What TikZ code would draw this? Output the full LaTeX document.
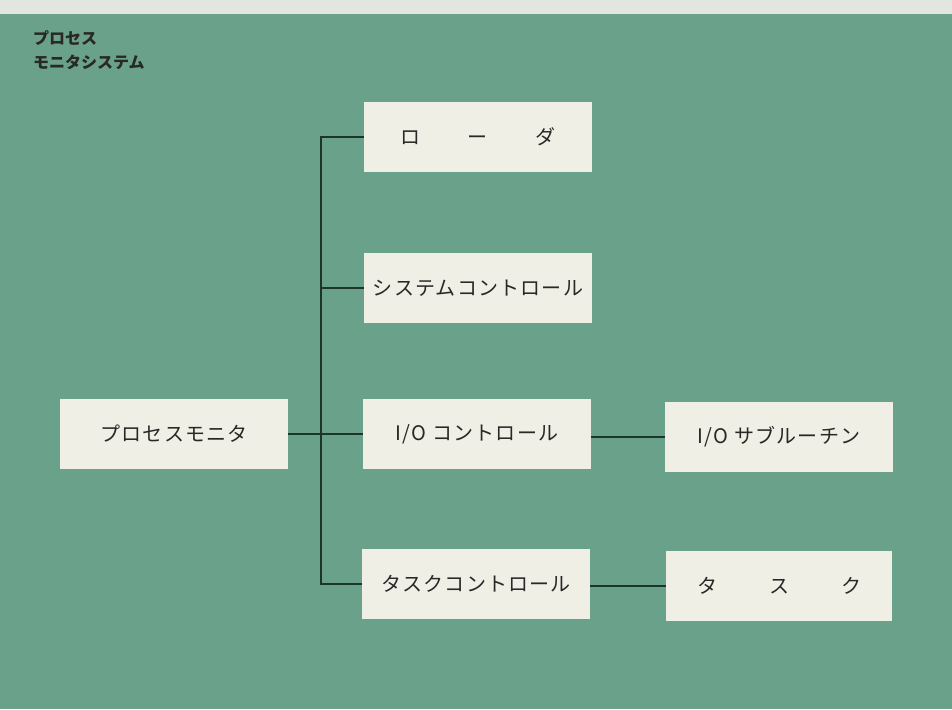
\documentclass[tikz,border=0pt]{standalone}
\usepackage{fontspec}
\newfontfamily\jp{Noto Sans CJK JP}
\newfontfamily\jpsp[LetterSpace=6]{Noto Sans CJK JP}
\definecolor{bg}{RGB}{106,161,139}
\definecolor{topstrip}{RGB}{226,229,224}
\definecolor{boxfill}{RGB}{240,239,230}
\definecolor{ink}{RGB}{40,40,38}
\definecolor{linec}{RGB}{28,52,42}
\tikzset{
  box/.style={fill=boxfill, draw=none, minimum width=228pt, minimum height=70pt, inner sep=0pt, text=ink, font=\jp\fontsize{20}{20}\selectfont},
  conn/.style={draw=linec, line width=2.8pt},
  title/.style={anchor=west, text=ink, font=\jp\bfseries\fontsize{16}{16}\selectfont, inner sep=0pt}
}
\begin{document}
\begin{tikzpicture}[x=1pt,y=-1pt]
\useasboundingbox (0,0) rectangle (952,709);
\fill[topstrip] (0,0) rectangle (952,14);
\fill[bg] (0,14) rectangle (952,709);
\node[title] (t1) at (33,38) {プロセス};
\node[title] (t2) at (33,62) {モニタシステム};
\node[box] (loader) at (478,137) {ロ\hspace{2.4em}ー\hspace{2.4em}ダ};
\node[box] (sysctl) at (478,288) {\jpsp\fontsize{20}{20}\selectfont システムコントロール};
\node[box] (pmon) at (174,434) {\jpsp\fontsize{20}{20}\selectfont プロセスモニタ};
\node[box] (ioctl) at (477,434) {\jpsp\fontsize{20}{20}\selectfont I/O コントロール};
\node[box] (iosub) at (779,437) {\jpsp\fontsize{20}{20}\selectfont I/O サブルーチン};
\node[box] (tctl) at (476,584) {\jpsp\fontsize{20}{20}\selectfont タスクコントロール};
\node[box, minimum width=226pt] (task) at (779,586) {タ\hspace{2.6em}ス\hspace{2.6em}ク};
\coordinate (bt) at (321,137);
\coordinate (bb) at (321,584);
\draw[conn] (loader.west) -- (bt) -- (bb) -- (tctl.west);
\draw[conn] (sysctl.west) -- (sysctl.west -| bt);
\draw[conn] (pmon.east) -- (ioctl.west);
\draw[conn] (ioctl.east |- iosub.west) -- (iosub.west);
\draw[conn] (tctl.east |- task.west) -- (task.west);
\end{tikzpicture}
\end{document}
